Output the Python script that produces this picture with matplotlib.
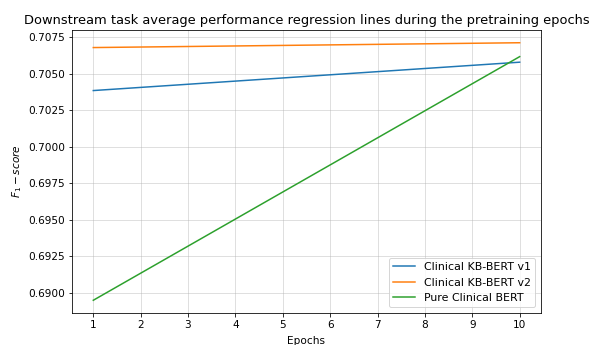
import matplotlib
matplotlib.use("Agg")
import matplotlib.pyplot as plt

# epochs shown on the x axis
epochs = list(range(1, 11))

# regression lines: value at the first and the last epoch
line_epochs = [1, 10]
kb_bert_v1 = [0.70384, 0.70578]
kb_bert_v2 = [0.70678, 0.70711]
pure_clinical = [0.68950, 0.70616]

labels = ["Clinical KB-BERT v1", "Clinical KB-BERT v2", "Pure Clinical BERT"]

fig = plt.figure(figsize=(589 / 72, 345 / 72), dpi=72)
ax = fig.add_axes([0.1222, 0.0928, 0.7963, 0.8202])

ax.plot(line_epochs, kb_bert_v1, label=labels[0])
ax.plot(line_epochs, kb_bert_v2, label=labels[1])
ax.plot(line_epochs, pure_clinical, label=labels[2])

ax.set_xlim(0.55, 10.45)
ax.set_ylim(0.68863, 0.70798)
ax.set_xticks(epochs)
ax.set_yticks([0.6900, 0.6925, 0.6950, 0.6975, 0.7000, 0.7025, 0.7050, 0.7075])
ax.yaxis.set_major_formatter(matplotlib.ticker.FormatStrFormatter("%.4f"))
ax.tick_params(labelsize=10.5)
ax.grid(True, alpha=0.5)
ax.set_xlabel("Epochs", fontsize=10.5, labelpad=6)
ax.set_ylabel("$F_1 - score$", fontsize=10.5)
ax.set_title("Downstream task average performance regression lines during the pretraining epochs",
             fontsize=13)
ax.legend(loc="lower right", fontsize=11)

fig.savefig("out.png", dpi=72)
